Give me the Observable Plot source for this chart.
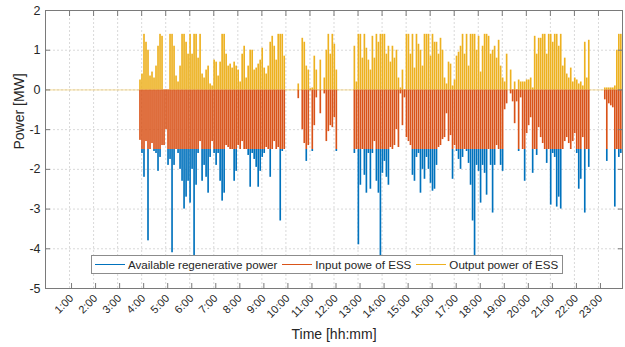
<!DOCTYPE html>
<html><head><meta charset="utf-8">
<script src="https://cdn.jsdelivr.net/npm/d3@7"></script>
<script src="https://cdn.jsdelivr.net/npm/@observablehq/plot@0.6"></script>
<style>
body{margin:0;background:#fff;}
#wrap{position:relative;width:625px;height:347px;font-family:"Liberation Sans",Arial,sans-serif;overflow:hidden;}
#legend{position:absolute;left:91px;top:255px;width:470px;height:17px;border:1px solid #8c8c8c;background:#fff;display:flex;align-items:center;font-size:11.6px;color:#262626;white-space:nowrap;}
.sw{display:inline-block;width:30px;height:0;border-top:1.4px solid;margin:0 3px 0 3px;}
</style></head><body><div id="wrap"><div id="legend"></div></div>
<script>
// ---- data (5-minute samples starting at startTime) ----
const startTime = "03:55";
const stepMinutes = 5;
const hourTicks = [1,2,3,4,5,6,7,8,9,10,11,12,13,14,15,16,17,18,19,20,21,22,23];
const yTicks = [-5,-4,-3,-2,-1,0,1,2];
const seriesNames = ["Available regenerative power", "Input powe of ESS", "Output power of ESS"];

const availablePower = [
 -1.27,-1.6,-2.2,-1.3,-3.8,-1.5,-1.35,-1.55,-1.6,-2.05,-1.7,-1.4,
 -1.4,-1.0,-1.9,-1.75,-4.1,-1.9,-1.5,-1.6,-2.0,-2.3,-3.0,-2.7,
 -2.3,-2.85,-2.0,-4.2,-2.4,-1.6,-1.3,-2.3,-1.9,-2.2,-2.6,-1.7,
 -1.3,-1.6,-1.9,-1.6,-2.3,-2.8,-2.6,-1.4,-1.45,-1.5,-1.5,-2.3,
 -2.05,-1.4,-1.5,-1.3,-1.5,-1.5,-1.65,-2.45,-1.6,-1.75,-1.95,-2.45,
 -2.05,-1.7,-1.6,-1.45,-1.5,-2.2,-1.5,-1.3,-1.5,-1.45,-3.3,-1.55,
 -1.5,0,0,0,0,0,0,-0.22,0,-1.0,-1.35,-1.8,
 -1.4,-0.02,-1.55,-0.9,-0.2,0,-0.6,0,-0.1,-1.3,-1.05,-0.9,
 -0.95,-0.7,-1.55,0,0,0,0,0,0,0,0,-1.6,
 -1.5,-3.9,-2.4,-1.5,-2.15,-2.6,-1.6,-2.5,-1.6,-1.3,-2.3,-2.6,
 -4.3,-2.1,-1.8,-2.2,-2.4,-1.45,-1.5,-1.4,-1.0,-1.45,-0.1,-0.9,
 -0.2,-1.2,-1.3,-1.4,-2.15,-2.3,-1.7,-1.6,-2.6,-2.0,-2.25,-1.7,
 -2.0,-2.35,-2.55,-2.5,-1.9,-1.45,-1.4,-1.25,-1.2,-0.6,-1.3,-1.15,
 -2.25,-1.4,-1.55,-1.75,-2.0,-1.7,-1.5,-1.55,-1.85,-2.4,-3.3,-4.2,
 -1.9,-2.05,-2.85,-1.9,-2.1,-2.65,-1.5,-1.9,-3.1,-1.9,-1.4,-1.5,
 -1.9,-2.05,-0.5,-0.35,0,-0.1,-0.3,-0.85,-0.3,-1.55,-0.2,-1.5,
 -2.3,-1.1,-0.9,-0.7,-2.1,-1.5,-1.65,-0.95,-1.2,-1.35,-1.5,-1.85,
 -1.5,-2.9,-1.6,-1.7,-2.95,-2.7,-3.0,-1.5,-1.3,-1.2,-1.35,-1.5,
 -1.3,-1.1,-1.6,-2.5,-2.25,-1.2,-3.1,-1.5,-1.95,0,0,0,
 0,0,0,0,-0.25,-1.8,-0.35,-0.4,-0.45,-2.95,-1.5,-1.7,
 -1.6
];

const inputPower = [
 -1.27,-1.5,-1.5,-1.3,-1.5,-1.5,-1.35,-1.5,-1.5,-1.5,-1.5,-1.4,
 -1.4,-1.0,-1.5,-1.5,-1.5,-1.5,-1.5,-1.5,-1.5,-1.5,-1.5,-1.5,
 -1.5,-1.5,-1.5,-1.5,-1.5,-1.5,-1.3,-1.5,-1.5,-1.5,-1.5,-1.5,
 -1.3,-1.5,-1.5,-1.5,-1.5,-1.5,-1.5,-1.4,-1.45,-1.5,-1.5,-1.5,
 -1.5,-1.4,-1.5,-1.3,-1.5,-1.5,-1.5,-1.5,-1.5,-1.5,-1.5,-1.5,
 -1.5,-1.5,-1.5,-1.45,-1.5,-1.5,-1.5,-1.3,-1.5,-1.45,-1.5,-1.5,
 -1.5,0,0,0,0,0,0,-0.22,0,-1.0,-1.35,-1.5,
 -1.4,-0.02,-1.5,-0.9,-0.2,0,-0.6,0,-0.1,-1.3,-1.05,-0.9,
 -0.95,-0.7,-1.5,0,0,0,0,0,0,0,0,-1.5,
 -1.5,-1.5,-1.5,-1.5,-1.5,-1.5,-1.5,-1.5,-1.5,-1.3,-1.5,-1.5,
 -1.5,-1.5,-1.5,-1.5,-1.5,-1.45,-1.5,-1.4,-1.0,-1.45,-0.1,-0.9,
 -0.2,-1.2,-1.3,-1.4,-1.5,-1.5,-1.5,-1.5,-1.5,-1.5,-1.5,-1.5,
 -1.5,-1.5,-1.5,-1.5,-1.5,-1.45,-1.4,-1.25,-1.2,-0.6,-1.3,-1.15,
 -1.5,-1.4,-1.5,-1.5,-1.5,-1.5,-1.5,-1.5,-1.5,-1.5,-1.5,-1.5,
 -1.5,-1.5,-1.5,-1.5,-1.5,-1.5,-1.5,-1.5,-1.5,-1.5,-1.4,-1.5,
 -1.5,-1.5,-0.5,-0.35,0,-0.1,-0.3,-0.85,-0.3,-1.5,-0.2,-1.5,
 -1.5,-1.1,-0.9,-0.7,-1.5,-1.5,-1.5,-0.95,-1.2,-1.35,-1.5,-1.5,
 -1.5,-1.5,-1.5,-1.5,-1.5,-1.5,-1.5,-1.5,-1.3,-1.2,-1.35,-1.5,
 -1.3,-1.1,-1.5,-1.5,-1.5,-1.2,-1.5,-1.5,-1.5,0,0,0,
 0,0,0,0,-0.25,-1.5,-0.35,-0.4,-0.45,-1.5,-1.5,-1.5,
 -1.5
];

const outputPower = [
 0.25,0.4,1.4,1.2,1.0,0.35,0.45,0.3,0.6,1.1,1.4,1.35,
 0,0,0,1.4,1.4,1.1,0.35,0.2,0.6,1.4,1.4,1.2,
 0.9,1.4,0.9,1.4,1.4,0.8,1.4,0.4,0.3,0.5,0.6,0.15,
 0.1,0.75,0.7,0.35,0.7,1.4,1.4,0.9,0.6,0.65,0.55,0.7,
 0.6,0.5,0.2,0.9,1.1,0.3,0.6,1.0,1.0,0.5,0.55,0.65,
 0.75,1.05,0.55,0.4,0.6,1.2,1.35,1.1,0.75,1.4,1.4,1.4,
 0.85,0,0,0,0,0,0,0.15,0,1.3,1.2,0.6,
 0.5,0.03,0.05,0.85,0.5,0,0.75,0,0.3,1.0,1.4,0.9,
 1.4,1.15,0.5,0,0,0,0,0,0,0,0,1.1,
 0.2,1.4,1.4,0.8,1.4,1.05,0.75,0.5,1.35,0.8,1.4,1.2,
 1.4,1.4,1.4,0.9,1.1,0.7,1.1,0.8,1.0,0.3,0.05,0.5,
 0,1.4,1.4,0.9,1.4,0.55,1.4,1.15,1.0,0.6,1.4,1.4,
 1.4,0.85,1.4,1.2,1.2,0.9,1.3,1.0,0.3,0.15,0.7,0.65,
 0.1,0.25,0.85,0.95,1.1,1.4,0.9,1.4,0.6,1.4,1.4,1.4,
 1.0,1.35,0.45,1.1,1.4,1.4,1.35,0.9,1.0,1.1,0.8,1.25,
 0.6,0.3,0.2,0.9,0,0.5,0,0.2,0,0.25,0.2,0.2,
 0.2,0.25,0.25,0.3,0.05,1.35,0.9,1.3,1.3,1.4,1.4,0.9,
 1.4,1.4,1.2,1.4,1.4,1.1,1.4,0.6,0.8,0.4,0.3,0.55,
 0.2,0.3,0.25,0.15,0.2,0.1,1.2,0.3,1.25,0,0,0,
 0,0,0,0,0.05,0.05,0.05,0.05,0.05,0.1,1.0,1.4,
 1.4
];

// ---- styles ----
const colors = {avail: "#0072BD", input: "#D95319", output: "#EDB120"};

// ---- build table ----
const [h0, m0] = startTime.split(":").map(Number);
const t0 = h0 + m0 / 60;
const dt = stepMinutes / 60;
const rows = availablePower.map((a, i) => ({
  t: t0 + i * dt, t2: t0 + (i + 1) * dt,
  avail: a, input: inputPower[i], output: outputPower[i]
}));

const barOpts = {x1: "t", x2: "t2", insetRight: 0.35};

const chart = Plot.plot({
  width: 625, height: 347,
  marginLeft: 45, marginRight: 3, marginTop: 10, marginBottom: 59,
  style: {fontFamily: '"Liberation Sans", Arial, sans-serif', fontSize: "11px", color: "#262626", background: "#fff"},
  x: {domain: [0, 24], label: null},
  y: {domain: [-5, 2], label: null},
  marks: [
    Plot.gridX(hourTicks, {stroke: "#d9d9d9", strokeOpacity: 1, strokeDasharray: "2,2"}),
    Plot.gridY(yTicks.filter(v => v > -5 && v < 2), {stroke: "#d9d9d9", strokeOpacity: 1, strokeDasharray: "2,2"}),
    Plot.ruleY([0], {stroke: colors.output, strokeOpacity: 0.45}),
    // available power: only the part beyond the ESS input is visible beneath the input bars
    Plot.rectY(rows, {...barOpts, y1: "input", y2: "avail", fill: colors.avail}),
    Plot.rectY(rows, {...barOpts, y1: 0, y2: "input", fill: colors.input}),
    Plot.rectY(rows, {...barOpts, y1: 0, y2: "output", fill: colors.output}),
    Plot.frame({stroke: "#7a7a7a"}),
    Plot.axisX(hourTicks, {anchor: "bottom", tickSize: -5, tickPadding: 13, tickRotate: -45, dx: 2,
      tickFormat: h => `${h}:00`, stroke: "#7a7a7a", fill: "#262626", label: null, fontSize: 11}),
    Plot.axisX(hourTicks, {anchor: "top", tickSize: -5, tickFormat: () => "", stroke: "#7a7a7a", label: null}),
    Plot.axisY(yTicks, {anchor: "left", tickSize: -5, tickPadding: 10, tickFormat: d => String(d),
      stroke: "#7a7a7a", fill: "#262626", label: null, fontSize: 12.5}),
    Plot.axisY(yTicks, {anchor: "right", tickSize: -5, tickFormat: () => "", stroke: "#7a7a7a", label: null}),
    Plot.text(["Time [hh:mm]"], {frameAnchor: "bottom", dy: 50, fontSize: 14, fill: "#262626"}),
    Plot.text(["Power [MW]"], {frameAnchor: "left", dx: -26, rotate: -90, fontSize: 14, fill: "#262626"})
  ]
});
const wrap = document.getElementById("wrap");
wrap.insertBefore(chart, wrap.firstChild);

// ---- legend ----
const leg = document.getElementById("legend");
[["avail", 0], ["input", 1], ["output", 2]].forEach(([k, i]) => {
  const sw = document.createElement("span");
  sw.className = "sw";
  sw.style.borderColor = colors[k];
  if (i > 0) sw.style.marginLeft = "5px";
  const tx = document.createElement("span");
  tx.textContent = seriesNames[i];
  leg.appendChild(sw); leg.appendChild(tx);
});
</script></body></html>
